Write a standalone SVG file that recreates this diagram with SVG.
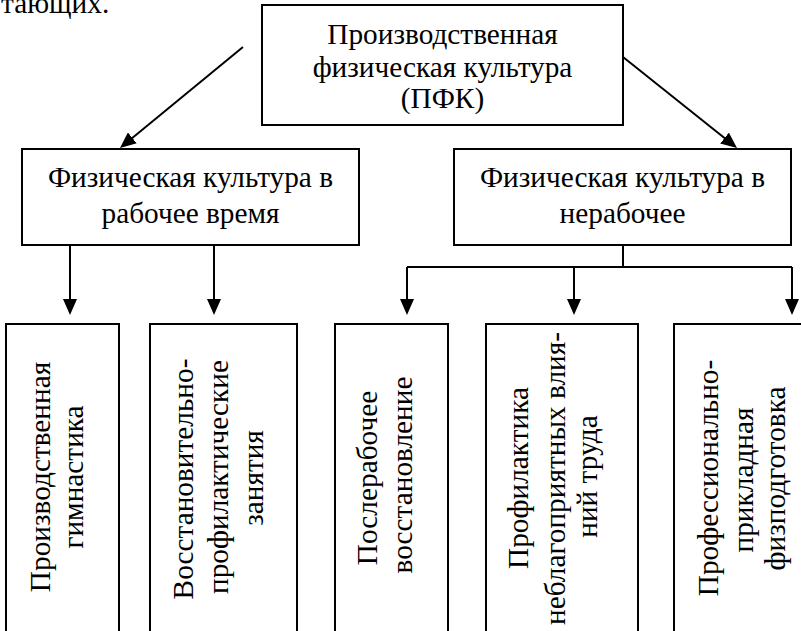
<svg xmlns="http://www.w3.org/2000/svg" width="801" height="631" viewBox="0 0 801 631">
<defs>
<style>
.box{fill:#fff;stroke:#000;stroke-width:2}
.t{font-family:"Liberation Serif","Times New Roman",serif;font-size:29.3px;fill:#000}
.c{text-anchor:middle}
.ln{stroke:#000;stroke-width:2;fill:none}
.ar{marker-end:url(#ah)}
</style>
<marker id="ah" markerUnits="userSpaceOnUse" markerWidth="16" markerHeight="14" refX="6" refY="7" orient="auto">
<path d="M0,0 L16,7 L0,14 z" fill="#000"/>
</marker>
</defs>
<rect width="801" height="631" fill="#fff"/>
<text class="t" x="1" y="13">тающих.</text>

<g id="connectors">
<line class="ln ar" x1="243" y1="47" x2="127.7" y2="141.7"/>
<line class="ln ar" x1="618" y1="53" x2="729.2" y2="141.8"/>
<line class="ln ar" x1="70" y1="245" x2="70" y2="305"/>
<line class="ln ar" x1="214" y1="245" x2="214" y2="305"/>
<polyline class="ln" points="623,245 623,267"/>
<polyline class="ln" points="407,267 792,267"/>
<line class="ln ar" x1="407" y1="267" x2="407" y2="305"/>
<line class="ln ar" x1="574" y1="267" x2="574" y2="305"/>
<line class="ln ar" x1="792" y1="267" x2="792" y2="305"/>
</g>

<g id="root">
<rect class="box" x="262" y="5" width="361" height="120"/>
<text class="t c" x="442.5" y="44">Производственная</text>
<text class="t c" x="442.5" y="77">физическая культура</text>
<text class="t c" x="442.5" y="108">(ПФК)</text>
</g>

<g id="work">
<rect class="box" x="22" y="149" width="337" height="96"/>
<text class="t c" x="190.5" y="187">Физическая культура в</text>
<text class="t c" x="190.5" y="223">рабочее время</text>
</g>

<g id="nonwork">
<rect class="box" x="454" y="149" width="337" height="96"/>
<text class="t c" x="622.5" y="187">Физическая культура в</text>
<text class="t c" x="622.5" y="223">нерабочее</text>
</g>

<g id="b1">
<rect class="box" x="6" y="324" width="113" height="320"/>
<text class="t c" transform="translate(50,477) rotate(-90)">Производственная</text>
<text class="t c" transform="translate(83,477) rotate(-90)">гимнастика</text>
</g>

<g id="b2">
<rect class="box" x="150" y="324" width="147" height="320"/>
<text class="t c" transform="translate(193,479) rotate(-90)">Восстановительно-</text>
<text class="t c" transform="translate(228,477) rotate(-90)">профилактические</text>
<text class="t c" transform="translate(263,478) rotate(-90)">занятия</text>
</g>

<g id="b3">
<rect class="box" x="335" y="324" width="113" height="320"/>
<text class="t c" transform="translate(377,478) rotate(-90)">Послерабочее</text>
<text class="t c" transform="translate(412,475) rotate(-90)">восстановление</text>
</g>

<g id="b4">
<rect class="box" x="486" y="324" width="152" height="320"/>
<text class="t c" transform="translate(528,478) rotate(-90)">Профилактика</text>
<text class="t c" transform="translate(565,478.5) rotate(-90)">неблагоприятных влия-</text>
<text class="t c" transform="translate(597,476.5) rotate(-90)">ний труда</text>
</g>

<g id="b5">
<rect class="box" x="674" y="324" width="140" height="320"/>
<text class="t c" transform="translate(718,478) rotate(-90)">Профессионально-</text>
<text class="t c" transform="translate(753,480) rotate(-90)">прикладная</text>
<text class="t c" transform="translate(785,478.5) rotate(-90)">физподготовка</text>
</g>
</svg>
